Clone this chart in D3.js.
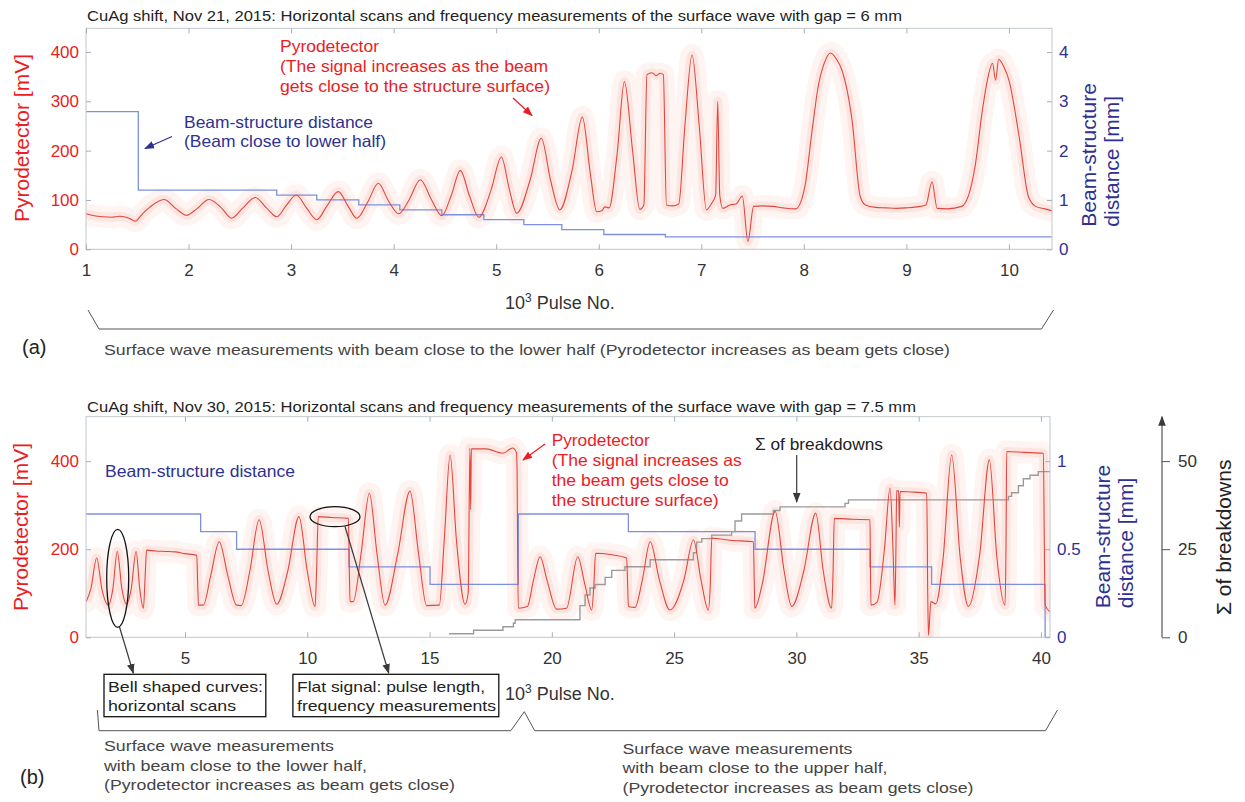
<!DOCTYPE html>
<html>
<head>
<meta charset="utf-8">
<script src="https://cdn.jsdelivr.net/npm/d3@7"></script>
<style>
  body { margin: 0; background: #fff; }
  text { font-family: "Liberation Sans", Arial, Helvetica, sans-serif; }
</style>
</head>
<body>
<script>
// ---- data (pulse no. in 10^3, pyrodetector in mV, distance in mm) ----
var topPulseTicks = [1, 2, 3, 4, 5, 6, 7, 8, 9, 10];
var topPyroTicks = [0, 100, 200, 300, 400];
var topDistTicks = [0, 1, 2, 3, 4];

var topPyro = [
  [1.00, 72], [1.08, 68], [1.16, 66], [1.25, 65], [1.33, 67], [1.42, 63], [1.48, 57],
  [1.55, 72], [1.62, 85], [1.76, 101], [1.88, 82], [1.98, 69], [2.08, 82], [2.20, 101],
  [2.32, 84], [2.42, 63], [2.53, 84], [2.65, 105], [2.76, 84], [2.86, 66], [2.95, 88],
  [3.05, 110], [3.15, 84], [3.25, 60], [3.35, 88], [3.46, 117], [3.56, 86], [3.64, 63],
  [3.75, 97], [3.85, 134], [3.95, 98], [4.05, 72], [4.15, 100], [4.26, 141], [4.37, 100],
  [4.47, 68], [4.56, 108], [4.65, 160], [4.74, 108], [4.83, 65], [4.95, 120], [5.05, 187],
  [5.13, 120], [5.20, 73], [5.33, 140], [5.44, 225], [5.53, 140], [5.62, 80], [5.74, 160],
  [5.84, 268], [5.92, 150], [5.98, 76], [6.03, 78], [6.06, 86], [6.10, 84], [6.18, 195],
  [6.25, 340], [6.33, 200], [6.40, 81], [6.44, 90], [6.47, 354], [6.52, 358], [6.56, 352],
  [6.60, 357], [6.63, 354], [6.66, 90], [6.72, 88], [6.78, 92], [6.84, 250], [6.91, 394],
  [6.98, 250], [7.05, 80], [7.10, 93], [7.14, 110], [7.16, 300], [7.18, 110], [7.21, 83],
  [7.28, 90], [7.34, 92], [7.40, 108], [7.455, 16], [7.51, 87], [7.60, 88], [7.70, 87],
  [7.80, 84], [7.92, 82], [8.01, 127], [8.08, 240], [8.14, 330], [8.20, 378], [8.26, 398],
  [8.32, 385], [8.37, 364], [8.47, 262], [8.55, 107], [8.60, 90], [8.70, 85], [8.80, 84],
  [8.90, 83], [9.00, 84], [9.10, 86], [9.19, 90], [9.25, 137], [9.30, 83], [9.40, 82],
  [9.54, 87], [9.67, 168], [9.74, 280], [9.79, 343], [9.84, 377], [9.87, 343], [9.90, 385],
  [9.95, 370], [10.00, 343], [10.10, 228], [10.19, 107], [10.26, 87], [10.35, 82], [10.42, 78]
];

var topDist = [
  [1.00, 2.79], [1.51, 1.2], [2.86, 1.1], [3.25, 1.0], [3.66, 0.9], [4.06, 0.8], [4.47, 0.7],
  [4.88, 0.6], [5.27, 0.5], [5.64, 0.4], [6.05, 0.3], [6.65, 0.25], [10.42, 0.25]
];

var botPulseTicks = [5, 10, 15, 20, 25, 30, 35, 40];
var botPyroTicks = [0, 200, 400];
var botDistTicks = [0, 0.5, 1];
var botSumTicks = [0, 25, 50];

var botPyro = [
  [0.96, 81], [1.15, 110], [1.39, 180], [1.60, 110], [1.87, 73], [2.05, 110], [2.23, 195],
  [2.42, 110], [2.61, 75], [2.80, 110], [3.00, 195], [3.15, 110], [3.30, 66], [3.38, 150],
  [3.43, 198], [3.80, 196], [4.20, 195], [4.60, 194], [5.00, 190], [5.48, 186], [5.52, 120],
  [5.55, 73], [5.75, 73], [6.05, 140], [6.40, 217], [6.75, 140], [7.11, 73], [7.30, 72],
  [7.65, 150], [8.03, 267], [8.40, 150], [8.75, 75], [9.20, 150], [9.66, 274], [10.00, 150],
  [10.32, 70], [10.38, 150], [10.45, 274], [11.00, 272], [11.68, 270], [11.72, 150], [11.75, 81],
  [11.88, 81], [12.20, 190], [12.54, 327], [12.85, 190], [13.18, 73], [13.70, 190], [14.20, 332],
  [14.55, 190], [14.88, 72], [15.40, 73], [15.60, 220], [15.84, 414], [16.10, 220], [16.45, 75],
  [16.58, 100], [16.65, 430], [16.68, 290], [16.71, 428], [17.30, 428], [18.00, 418], [18.40, 430],
  [18.55, 420], [18.58, 376], [18.60, 200], [18.63, 66], [19.00, 70], [19.25, 130], [19.52, 183],
  [19.80, 130], [20.20, 64], [20.60, 66], [21.06, 183], [21.35, 120], [21.63, 62], [21.72, 120],
  [21.79, 191], [22.40, 188], [23.06, 180], [23.10, 120], [23.13, 70], [23.40, 68], [23.70, 130],
  [24.02, 217], [24.40, 130], [24.83, 62], [25.40, 130], [25.79, 221], [26.10, 130], [26.40, 62],
  [26.48, 120], [26.54, 225], [27.40, 220], [28.24, 217], [28.28, 120], [28.30, 66], [28.60, 120],
  [29.13, 286], [29.50, 150], [29.81, 70], [30.30, 150], [30.79, 282], [31.10, 150], [31.44, 66],
  [31.50, 150], [31.55, 270], [32.30, 268], [33.01, 267], [33.03, 150], [33.05, 73], [33.30, 80],
  [33.60, 200], [33.83, 339], [33.95, 200], [34.03, 73], [34.07, 200], [34.10, 333], [34.18, 332],
  [34.21, 250], [34.24, 331], [34.70, 330], [35.33, 327], [35.37, 100], [35.40, 5], [35.50, 81],
  [35.70, 76], [36.00, 180], [36.35, 414], [36.70, 180], [37.03, 70], [37.50, 190], [37.89, 403],
  [38.20, 180], [38.53, 73], [38.57, 200], [38.60, 422], [39.30, 420], [40.10, 418], [40.14, 200],
  [40.17, 73], [40.37, 58]
];

var botDist = [
  [0.952, 0.7], [5.64, 0.6], [7.11, 0.5], [11.71, 0.4], [15.02, 0.3], [18.63, 0.7], [23.13, 0.6],
  [28.31, 0.5], [33.01, 0.4], [35.53, 0.3], [40.17, 0], [40.37, 0]
];

var botSum = [
  [15.80, 1], [16.80, 2], [18.00, 3], [18.43, 4], [18.50, 5], [21.15, 9], [21.36, 12], [21.56, 14],
  [21.77, 15], [22.18, 17], [22.45, 19], [22.99, 20], [24.02, 22], [25.79, 24], [25.92, 27],
  [26.13, 28], [26.54, 29], [27.35, 30], [27.49, 33], [27.76, 35], [29.06, 36], [29.33, 37],
  [31.99, 38], [32.13, 39], [38.67, 40], [38.80, 41], [39.08, 43], [39.28, 45], [39.55, 46],
  [39.89, 47], [40.37, 47]
];

// ---- colours ----
var RED = "#ec1c24", BLUE = "#2e3192", LINE_RED = "#e0473e", LINE_BLUE = "#7d90e0",
    BAND = "#f5a89c", GRAY = "#9b9b9b", FRAME = "#c1c7ce", INK = "#333";

var svg = d3.select("body").append("svg").attr("width", 1245).attr("height", 802);
var defs = svg.append("defs");

function marker(id, color, size) {
  defs.append("marker").attr("id", id).attr("viewBox", "0 0 10 10")
    .attr("refX", 9).attr("refY", 5).attr("markerWidth", size).attr("markerHeight", size)
    .attr("markerUnits", "userSpaceOnUse").attr("orient", "auto")
    .append("path").attr("d", "M0,1.2 L10,5 L0,8.8 Z").attr("fill", color);
}
marker("arRed", RED, 10);
marker("arBlue", BLUE, 10);
marker("arInk", "#3a3a3a", 10);

function txt(x, y, s, size, color, len, anchor) {
  var t = svg.append("text").attr("x", x).attr("y", y).attr("font-size", size)
    .attr("fill", color).text(s);
  if (len) t.attr("textLength", len).attr("lengthAdjust", "spacingAndGlyphs");
  if (anchor) t.attr("text-anchor", anchor);
  return t;
}
function vtxt(x, y, s, size, color, anchor) {
  return svg.append("text").attr("transform", "translate(" + x + "," + y + ") rotate(-90)")
    .attr("text-anchor", anchor || "middle").attr("font-size", size).attr("fill", color).text(s);
}
function arrow(x1, y1, x2, y2, color, mk) {
  svg.append("line").attr("x1", x1).attr("y1", y1).attr("x2", x2).attr("y2", y2)
    .attr("stroke", color).attr("stroke-width", 1.2).attr("marker-end", "url(#" + mk + ")");
}
function pulseLabel(x, y) {
  var t = svg.append("text").attr("x", x).attr("y", y).attr("font-size", 18).attr("fill", INK);
  t.append("tspan").text("10");
  t.append("tspan").attr("dy", -7).attr("font-size", 12).text("3");
  t.append("tspan").attr("dy", 7).text(" Pulse No.");
}

function styleAxis(g, color, tickColor) {
  g.select(".domain").remove();
  g.attr("font-family", null).attr("font-size", 17);
  g.selectAll(".tick line").attr("stroke", tickColor);
  g.selectAll(".tick text").attr("fill", color);
}

// ---- one panel ----
function drawPanel(p) {
  var clipId = "clip" + p.id;
  defs.append("clipPath").attr("id", clipId).append("rect")
    .attr("x", p.l).attr("y", p.t).attr("width", p.r - p.l).attr("height", p.b - p.t);

  var plot = svg.append("g").attr("clip-path", "url(#" + clipId + ")");
  var pyroLine = d3.line().x(function(d) { return p.x(d[0]); })
    .y(function(d) { return p.y(d[1]); }).curve(d3.curveMonotoneX);

  // noisy raw signal shown as a soft band
  plot.append("path").datum(p.pyro).attr("d", pyroLine).attr("fill", "none")
    .attr("stroke", BAND).attr("stroke-opacity", 0.13).attr("stroke-width", 22)
    .attr("stroke-linejoin", "round").attr("stroke-linecap", "round");
  plot.append("path").datum(p.pyro).attr("d", pyroLine).attr("fill", "none")
    .attr("stroke", BAND).attr("stroke-opacity", 0.2).attr("stroke-width", 9)
    .attr("stroke-linejoin", "round");

  plot.append("path").datum(p.dist)
    .attr("d", d3.line().x(function(d) { return p.x(d[0]); })
      .y(function(d) { return p.d(d[1]); }).curve(d3.curveStepAfter))
    .attr("fill", "none").attr("stroke", LINE_BLUE).attr("stroke-width", 1.3);

  if (p.sum) {
    plot.append("path").datum(p.sum)
      .attr("d", d3.line().x(function(d) { return p.x(d[0]); })
        .y(function(d) { return p.s(d[1]); }).curve(d3.curveStepAfter))
      .attr("fill", "none").attr("stroke", GRAY).attr("stroke-width", 1.4);
  }

  plot.append("path").datum(p.pyro).attr("d", pyroLine).attr("fill", "none")
    .attr("stroke", LINE_RED).attr("stroke-width", 1.1);

  // frame
  svg.append("rect").attr("x", p.l).attr("y", p.t).attr("width", p.r - p.l)
    .attr("height", p.b - p.t).attr("fill", "none").attr("stroke", FRAME);

  svg.append("g").attr("transform", "translate(0," + p.b + ")")
    .call(d3.axisBottom(p.x).tickValues(p.xt).tickSizeInner(-5).tickSizeOuter(0)
      .tickPadding(p.xpad).tickFormat(d3.format("d")))
    .call(function(g) { styleAxis(g, INK, "#a7aeb6"); });
  svg.append("g").attr("transform", "translate(0," + p.t + ")")
    .call(d3.axisTop(p.x).tickValues(p.xt).tickSizeInner(-5).tickSizeOuter(0).tickFormat(""))
    .call(function(g) { styleAxis(g, INK, "#a7aeb6"); });
  svg.append("g").attr("transform", "translate(" + p.l + ",0)")
    .call(d3.axisLeft(p.y).tickValues(p.yt).tickSizeInner(-5).tickSizeOuter(0).tickPadding(7))
    .call(function(g) { styleAxis(g, RED, "#a7aeb6"); });
  svg.append("g").attr("transform", "translate(" + p.r + ",0)")
    .call(d3.axisRight(p.d).tickValues(p.dt).tickSizeInner(-5).tickSizeOuter(0).tickPadding(7)
      .tickFormat(String))
    .call(function(g) { styleAxis(g, BLUE, "#a7aeb6"); });
}

// ---- panel (a) ----
var pa = {
  id: "a", l: 86, r: 1052, t: 28.3, b: 249.3, xpad: 15,
  xt: topPulseTicks, yt: topPyroTicks, dt: topDistTicks,
  pyro: topPyro, dist: topDist
};
pa.x = d3.scaleLinear().domain([1, 10.42]).range([pa.l, pa.r]);
pa.y = d3.scaleLinear().domain([0, 448]).range([pa.b, pa.t]);
pa.d = d3.scaleLinear().domain([0, 4.48]).range([pa.b, pa.t]);
drawPanel(pa);

// ---- panel (b) ----
var pb = {
  id: "b", l: 86, r: 1050, t: 416.7, b: 637.3, xpad: 15,
  xt: botPulseTicks, yt: botPyroTicks, dt: botDistTicks,
  pyro: botPyro, dist: botDist, sum: botSum
};
pb.x = d3.scaleLinear().domain([0.952, 40.37]).range([pb.l, pb.r]);
pb.y = d3.scaleLinear().domain([0, 501]).range([pb.b, pb.t]);
pb.d = d3.scaleLinear().domain([0, 1.2525]).range([pb.b, pb.t]);
pb.s = d3.scaleLinear().domain([0, 62.6]).range([pb.b, pb.t]);
drawPanel(pb);

// breakdown counter axis with arrow
svg.append("line").attr("x1", 1162).attr("y1", pb.b).attr("x2", 1162).attr("y2", pb.t)
  .attr("stroke", "#555").attr("stroke-width", 1.2).attr("marker-end", "url(#arInk)");
svg.append("g").attr("transform", "translate(1162,0)")
  .call(d3.axisRight(pb.s).tickValues(botSumTicks).tickSizeInner(8).tickSizeOuter(0).tickPadding(8))
  .call(function(g) { styleAxis(g, INK, "#555"); });

// ---- titles and axis labels ----
txt(87, 20.5, "CuAg shift, Nov 21, 2015: Horizontal scans and frequency measurements of the surface wave with gap = 6 mm", 15, "#222", 815);
txt(87, 412, "CuAg shift, Nov 30, 2015: Horizontal scans and frequency measurements of the surface wave with gap = 7.5 mm", 15, "#222", 829);

vtxt(29, 138, "Pyrodetector [mV]", 21, RED);
vtxt(28, 527, "Pyrodetector [mV]", 21, RED);
vtxt(1096, 226.7, "Beam-structure", 21, BLUE, "start");
vtxt(1119, 226.7, "distance [mm]", 21, BLUE, "start");
vtxt(1110, 608.3, "Beam-structure", 21, BLUE, "start");
vtxt(1133, 608.3, "distance [mm]", 21, BLUE, "start");
vtxt(1231, 615, "\u03A3 of breakdowns", 21, "#222", "start");

pulseLabel(505, 309);
pulseLabel(505, 700);

// ---- annotations (a) ----
txt(280, 51.7, "Pyrodetector", 16.5, RED, 99);
txt(280, 71.7, "(The signal increases as the beam", 16.5, RED, 268);
txt(280, 91.7, "gets close to the structure surface)", 16.5, RED, 270);
arrow(513, 98, 532, 115.5, RED, "arRed");
txt(184, 127.5, "Beam-structure distance", 16.5, BLUE, 189);
txt(184, 147, "(Beam close to lower half)", 16.5, BLUE, 202);
arrow(172, 136.5, 145, 148.5, BLUE, "arBlue");

// ---- annotations (b) ----
txt(105, 476.7, "Beam-structure distance", 16.5, BLUE, 190);
txt(551.7, 446, "Pyrodetector", 16.5, RED, 98);
txt(551.7, 466, "(The signal increases as", 16.5, RED, 190);
txt(551.7, 486, "the beam gets close to", 16.5, RED, 177);
txt(551.7, 505.5, "the structure surface)", 16.5, RED, 167);
arrow(545, 444, 523, 460, RED, "arRed");
txt(755, 450, "\u03A3 of breakdowns", 16.5, "#222", 128);
arrow(796.7, 455, 796.7, 502, "#3a3a3a", "arInk");

svg.append("ellipse").attr("cx", 117.7).attr("cy", 578.3).attr("rx", 11).attr("ry", 49)
  .attr("fill", "none").attr("stroke", "#111").attr("stroke-width", 1.3);
svg.append("ellipse").attr("cx", 335).attr("cy", 516.7).attr("rx", 25).attr("ry", 10)
  .attr("fill", "none").attr("stroke", "#111").attr("stroke-width", 1.3);
arrow(119.5, 627, 133.3, 673, "#3a3a3a", "arInk");
arrow(345, 526.5, 388.7, 673, "#3a3a3a", "arInk");

svg.append("rect").attr("x", 104).attr("y", 674.3).attr("width", 161.8).attr("height", 42.4)
  .attr("fill", "none").attr("stroke", "#111").attr("stroke-width", 1.3);
svg.append("rect").attr("x", 292.9).attr("y", 674.3).attr("width", 205.9).attr("height", 42.4)
  .attr("fill", "none").attr("stroke", "#111").attr("stroke-width", 1.3);
txt(108, 692, "Bell shaped curves:", 15, "#222", 155);
txt(108, 711, "horizontal scans", 15, "#222", 128);
txt(297, 692, "Flat signal: pulse length,", 15, "#222", 188);
txt(297, 711, "frequency measurements", 15, "#222", 199);

// ---- braces and captions ----
var brace = d3.line();
svg.append("path").attr("d", brace([[88, 310], [99, 329], [1041.5, 329], [1053.5, 310]]))
  .attr("fill", "none").attr("stroke", "#555");
svg.append("path").attr("d", brace([[97.4, 710], [99, 730.7], [510.8, 730.7], [524.3, 711.7],
    [534.7, 730.7], [1045.5, 730.7], [1057.5, 710]]))
  .attr("fill", "none").attr("stroke", "#555");

txt(22, 354, "(a)", 20, "#222");
txt(104, 355, "Surface wave measurements with beam close to the lower half (Pyrodetector increases as beam gets close)", 15, "#444", 846);
txt(20, 784, "(b)", 20, "#222");
txt(104, 751, "Surface wave measurements", 15, "#444", 230);
txt(104, 771, "with beam close to the lower half,", 15, "#444", 263);
txt(104, 790, "(Pyrodetector increases as beam gets close)", 15, "#444", 351);
txt(622.5, 754, "Surface wave measurements", 15, "#444", 230);
txt(622.5, 773, "with beam close to the upper half,", 15, "#444", 265);
txt(622.5, 793, "(Pyrodetector increases as beam gets close)", 15, "#444", 351);
</script>
</body>
</html>
